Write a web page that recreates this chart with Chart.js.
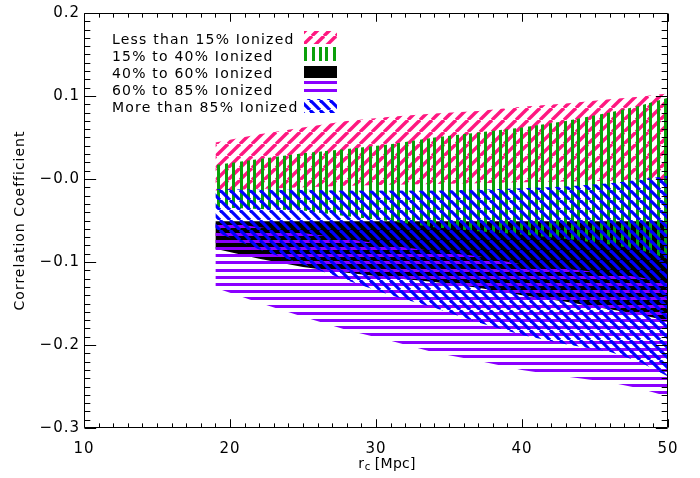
<!DOCTYPE html>
<html><head><meta charset="utf-8">
<script src="https://cdn.jsdelivr.net/npm/chart.js@4.4.1/dist/chart.umd.min.js"></script>
<style>html,body{margin:0;padding:0;background:#fff;}canvas{display:block;}</style>
</head><body>
<canvas id="c" width="700" height="478"></canvas>
<script>
// ---- data ----
const xValues = [19, 22, 25, 28, 31, 34, 37, 40, 43, 46, 48, 50];

const lt15Upper  = [0.044, 0.054, 0.062, 0.070, 0.075, 0.079, 0.082, 0.087, 0.091, 0.096, 0.099, 0.103];
const lt15Lower  = [-0.014, -0.012, -0.010, -0.008, -0.007, -0.006, -0.005, -0.004, -0.003, -0.002, -0.001, 0.000];

const p15to40Upper = [0.017, 0.024, 0.031, 0.036, 0.042, 0.050, 0.056, 0.062, 0.070, 0.080, 0.088, 0.098];
const p15to40Lower = [-0.034, -0.036, -0.038, -0.045, -0.051, -0.058, -0.063, -0.067, -0.072, -0.079, -0.085, -0.096];

const p40to60Upper = [-0.051, -0.051, -0.051, -0.051, -0.051, -0.051, -0.051, -0.051, -0.051, -0.051, -0.051, -0.051];
const p40to60Lower = [-0.084, -0.096, -0.106, -0.113, -0.119, -0.124, -0.131, -0.140, -0.148, -0.157, -0.163, -0.171];

const p60to85Upper = [-0.051, -0.058, -0.065, -0.072, -0.080, -0.087, -0.093, -0.103, -0.108, -0.114, -0.118, -0.126];
const p60to85Lower = [-0.131, -0.149, -0.166, -0.182, -0.195, -0.209, -0.219, -0.230, -0.238, -0.245, -0.252, -0.262];

const gt85Upper = [-0.012, -0.013, -0.013, -0.014, -0.014, -0.014, -0.013, -0.011, -0.009, -0.005, -0.001, 0.004];
const gt85Lower = [-0.064, -0.085, -0.103, -0.122, -0.140, -0.155, -0.173, -0.188, -0.199, -0.208, -0.220, -0.238];

const seriesLabels = ['Less than 15% Ionized', '15% to 40% Ionized', '40% to 60% Ionized', '60% to 85% Ionized', 'More than 85% Ionized'];

const xTickValues = [10, 20, 30, 40, 50];
const xTickLabels = ['10', '20', '30', '40', '50'];
const yTickValues = [-0.3, -0.2, -0.1, 0.0, 0.1, 0.2];
const yTickLabels = ['\u22120.3', '\u22120.2', '\u22120.1', '\u22120.0', '0.1', '0.2'];

const yTitle = 'Correlation Coefficient';
const xTitleMain = 'r', xTitleSub = 'c', xTitleRest = ' [Mpc]';

// ---- styles ----
const FONT = 'DejaVu Sans';
const COL = { pink: '#ff1780', green: '#0aa00a', black: '#000000', purple: '#8a00ff', blue: '#0000ff' };

const ctx = document.getElementById('c').getContext('2d');

function makePattern(kind, color) {
  const c = document.createElement('canvas');
  const g = c.getContext('2d');
  g.fillStyle = color; g.strokeStyle = color;
  if (kind === 'slash' || kind === 'backslash') {
    const s = kind === 'slash' ? 12 : 10;
    c.width = s; c.height = s;
    g.strokeStyle = color; g.lineWidth = kind === 'slash' ? 3.4 : 3.2;
    for (let k = -1; k <= 1; k++) {
      g.beginPath();
      if (kind === 'slash') { g.moveTo(k * s, s); g.lineTo(k * s + s, 0); }
      else { g.moveTo(k * s, 0); g.lineTo(k * s + s, s); }
      g.stroke();
    }
  } else if (kind === 'vertical') {
    c.width = 36; c.height = 4; g.fillStyle = color;
    [1, 9, 16, 24, 31].forEach(x => g.fillRect(x, 0, 3, 4));
  } else if (kind === 'horizontal') {
    c.width = 4; c.height = 36; g.fillStyle = color;
    [2, 9, 17, 24, 31].forEach(y => g.fillRect(0, y, 4, 3));
  } else {
    c.width = 4; c.height = 4; g.fillStyle = color; g.fillRect(0, 0, 4, 4);
  }
  return ctx.createPattern(c, 'repeat');
}

const PAT = {
  pink: makePattern('slash', COL.pink),
  green: makePattern('vertical', COL.green),
  black: makePattern('solid', COL.black),
  purple: makePattern('horizontal', COL.purple),
  blue: makePattern('backslash', COL.blue)
};

function band(upper, lower, pattern, label) {
  return [
    { label: label, data: xValues.map((x, i) => ({ x: x, y: upper[i] })), fill: '+1',
      backgroundColor: pattern, borderColor: 'rgba(0,0,0,0)', borderWidth: 0, pointRadius: 0, tension: 0 },
    { label: label + ' (lower)', data: xValues.map((x, i) => ({ x: x, y: lower[i] })), fill: false,
      backgroundColor: 'rgba(0,0,0,0)', borderColor: 'rgba(0,0,0,0)', borderWidth: 0, pointRadius: 0, tension: 0 }
  ];
}

// drawing order: dataset 0 on top
const datasets = [].concat(
  band(gt85Upper, gt85Lower, PAT.blue, seriesLabels[4]),
  band(p60to85Upper, p60to85Lower, PAT.purple, seriesLabels[3]),
  band(p15to40Upper, p15to40Lower, PAT.green, seriesLabels[1]),
  band(lt15Upper, lt15Lower, PAT.pink, seriesLabels[0]),
  band(p40to60Upper, p40to60Lower, PAT.black, seriesLabels[2])
);

const legendPatterns = [PAT.pink, PAT.green, PAT.black, PAT.purple, PAT.blue];

const framePlugin = {
  id: 'frame',
  beforeDraw(chart) { chart.ctx.letterSpacing = '1px'; },
  afterDraw(chart) {
    const c = chart.ctx, a = chart.chartArea;
    const xs = chart.scales.x, ys = chart.scales.y;
    c.save();
    c.letterSpacing = '0px';
    c.strokeStyle = '#000'; c.lineWidth = 1;
    const L = Math.round(a.left) + 0.5, R = Math.round(a.right) - 0.5;
    const T = Math.round(a.top) + 0.5, B = Math.round(a.bottom) - 0.5;
    c.beginPath(); c.rect(L, T, R - L, B - T); c.stroke();
    const H = B - T, W = R - L;
    const xMaj = 0.02 * H, xMin = xMaj / 2, yMaj = 0.02 * W, yMin = yMaj / 2;
    c.beginPath();
    for (let v = xs.min; v <= xs.max + 1e-9; v += 1) {
      const px = Math.round(xs.getPixelForValue(v)) + 0.5;
      const len = (Math.abs(v % 10) < 1e-9) ? xMaj : xMin;
      c.moveTo(px, B); c.lineTo(px, B - len);
      c.moveTo(px, T); c.lineTo(px, T + len);
    }
    for (let k = 0; k <= 50; k++) {
      const v = ys.min + k * 0.01;
      const py = Math.round(ys.getPixelForValue(v)) + 0.5;
      const len = (k % 10 === 0) ? yMaj : yMin;
      c.moveTo(L, py); c.lineTo(L + len, py);
      c.moveTo(R, py); c.lineTo(R - len, py);
    }
    c.stroke();

    // legend
    c.font = '14px "' + FONT + '"';
    c.fillStyle = '#000';
    c.textBaseline = 'alphabetic';
    c.letterSpacing = '1.2px';
    const baselines = [44, 61, 78, 95, 112];
    const boxes = [[304, 31, 33, 13], [304, 47, 33, 14], [304, 66, 33, 12], [304, 80, 33, 13], [304, 99, 33, 14]];
    seriesLabels.forEach((t, i) => {
      c.fillStyle = '#000';
      c.fillText(t, 112, baselines[i]);
      c.fillStyle = legendPatterns[i];
      const b = boxes[i];
      c.fillRect(b[0], b[1], b[2], b[3]);
    });

    // x-axis title with subscript
    c.fillStyle = '#000';
    c.letterSpacing = '0.3px';
    const mainFont = '14px "' + FONT + '"', subFont = '10px "' + FONT + '"';
    c.font = mainFont;
    const wMain = c.measureText(xTitleMain).width;
    c.font = subFont;
    const wSub = c.measureText(xTitleSub).width;
    c.font = mainFont;
    const wRest = c.measureText(xTitleRest).width;
    const total = wMain + wSub + wRest;
    let x0 = 387 - total / 2;
    const base = 468;
    c.textAlign = 'left';
    c.fillText(xTitleMain, x0, base);
    c.font = subFont;
    c.fillText(xTitleSub, x0 + wMain + 0.5, base + 2);
    c.font = mainFont;
    c.fillText(xTitleRest, x0 + wMain + wSub, base);
    c.restore();
  }
};

new Chart(ctx, {
  type: 'line',
  data: { datasets: datasets },
  plugins: [framePlugin],
  options: {
    responsive: false, animation: false, devicePixelRatio: 1,
    layout: { padding: { left: 0, right: 32, top: 12, bottom: 0 } },
    plugins: { legend: { display: false }, tooltip: { enabled: false }, filler: { propagate: false } },
    elements: { line: { borderWidth: 0 }, point: { radius: 0 } },
    scales: {
      x: {
        type: 'linear', min: 10, max: 50,
        grid: { display: false, drawTicks: false }, border: { display: false },
        afterBuildTicks: s => { s.ticks = xTickValues.map(v => ({ value: v })); },
        afterFit: s => { s.height = 50; },
        ticks: { padding: 12, color: '#000', autoSkip: false, maxRotation: 0,
          font: { family: FONT, size: 15 }, callback: (v, i) => xTickLabels[i] }
      },
      y: {
        type: 'linear', min: -0.3, max: 0.2,
        grid: { display: false, drawTicks: false }, border: { display: false },
        afterBuildTicks: s => { s.ticks = yTickValues.map(v => ({ value: v })); },
        afterFit: s => { s.width = 84; },
        ticks: { padding: 4, color: '#000', autoSkip: false,
          font: { family: FONT, size: 15 }, callback: (v, i) => yTickLabels[i] },
        title: { display: true, text: yTitle, color: '#000', font: { family: FONT, size: 14 }, padding: { top: 12 } }
      }
    }
  }
});
</script>
</body></html>
